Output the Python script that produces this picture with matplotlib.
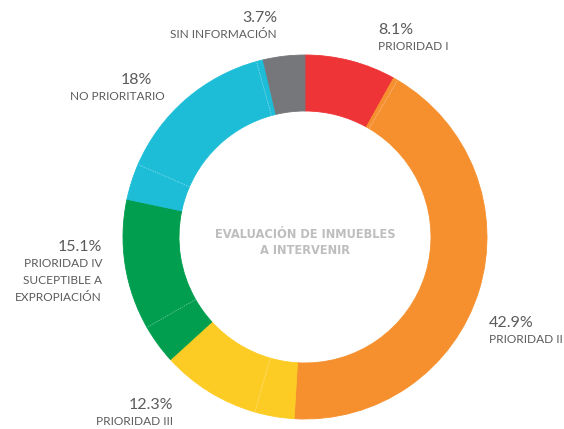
import numpy as np
import matplotlib.pyplot as plt

# categorias del anillo, en sentido horario desde arriba
categorias = ["PRIORIDAD I", "PRIORIDAD II", "PRIORIDAD III",
              "PRIORIDAD IV\nSUCEPTIBLE A\nEXPROPIACIÓN", "NO PRIORITARIO",
              "SIN INFORMACIÓN"]
porcentajes = [8.1, 42.9, 12.3, 15.1, 18, 3.7]
etiquetas_pct = ["8.1%", "42.9%", "12.3%", "15.1%", "18%", "3.7%"]
# subdivisiones de cada categoria
subdivisiones = [[8.1], [0.4, 42.5], [3.5, 8.8], [3.5, 11.6], [3.2, 14.2, 0.6], [3.7]]
colores = ["#EE3436", "#F6902E", "#FCCC24", "#009E4E", "#1DBDD8", "#75777A"]

W, H = 564, 429
cx, cy = 305, H - 237
R, ancho = 182, 56

plt.rcParams['font.family'] = ['Lato', 'DejaVu Sans']
fig = plt.figure(figsize=(W / 100, H / 100), dpi=100)
ax = fig.add_axes([0, 0, 1, 1])

vals, cols = [], []
for sub, c in zip(subdivisiones, colores):
    vals += sub
    cols += [c] * len(sub)

wedges, _ = ax.pie(vals, colors=cols, center=(cx, cy), radius=R, startangle=90,
                   counterclock=False, normalize=True,
                   wedgeprops=dict(width=ancho, linewidth=0.6))
for w, c in zip(wedges, cols):
    w.set_edgecolor(c)

# lineas finas entre subdivisiones
total = sum(vals)
acum = 0
for sub in subdivisiones:
    for v in sub[:-1]:
        acum += v
        ang = np.deg2rad(90 - 360 * acum / total)
        ax.plot([cx + (R - ancho) * np.cos(ang), cx + R * np.cos(ang)],
                [cy + (R - ancho) * np.sin(ang), cy + R * np.sin(ang)],
                color="white", lw=0.5, alpha=0.5, ls=(0, (2, 1.5)))
    acum += sub[-1]

gris = "#5A5B5D"
# (x, y, alineacion) de cada etiqueta
posiciones = [(378, 30, "left"), (489, 323, "left"), (173, 405, "right"),
              (102, 247, "right"), (152, 80, "right"), (277, 18, "right")]
for (x, y, ha), pct, cat in zip(posiciones, etiquetas_pct, categorias):
    ax.text(x, H - y, pct, ha=ha, va="center", fontsize=11.5, color=gris)
    xc = x + 13 if cat == "NO PRIORITARIO" else x
    ax.text(xc, H - y - 11, cat, ha=ha, va="top", fontsize=8.6, color=gris,
            linespacing=1.65)

ax.text(cx, H - 243, "EVALUACIÓN DE INMUEBLES\nA INTERVENIR", ha="center",
        va="center", fontsize=8.3, fontweight="bold", color="#BEBEBE",
        linespacing=1.3, family="DejaVu Sans")

ax.set_xlim(0, W)
ax.set_ylim(0, H)
ax.set_aspect("auto")
ax.axis("off")
fig.savefig("out.png", dpi=100, facecolor="white")
